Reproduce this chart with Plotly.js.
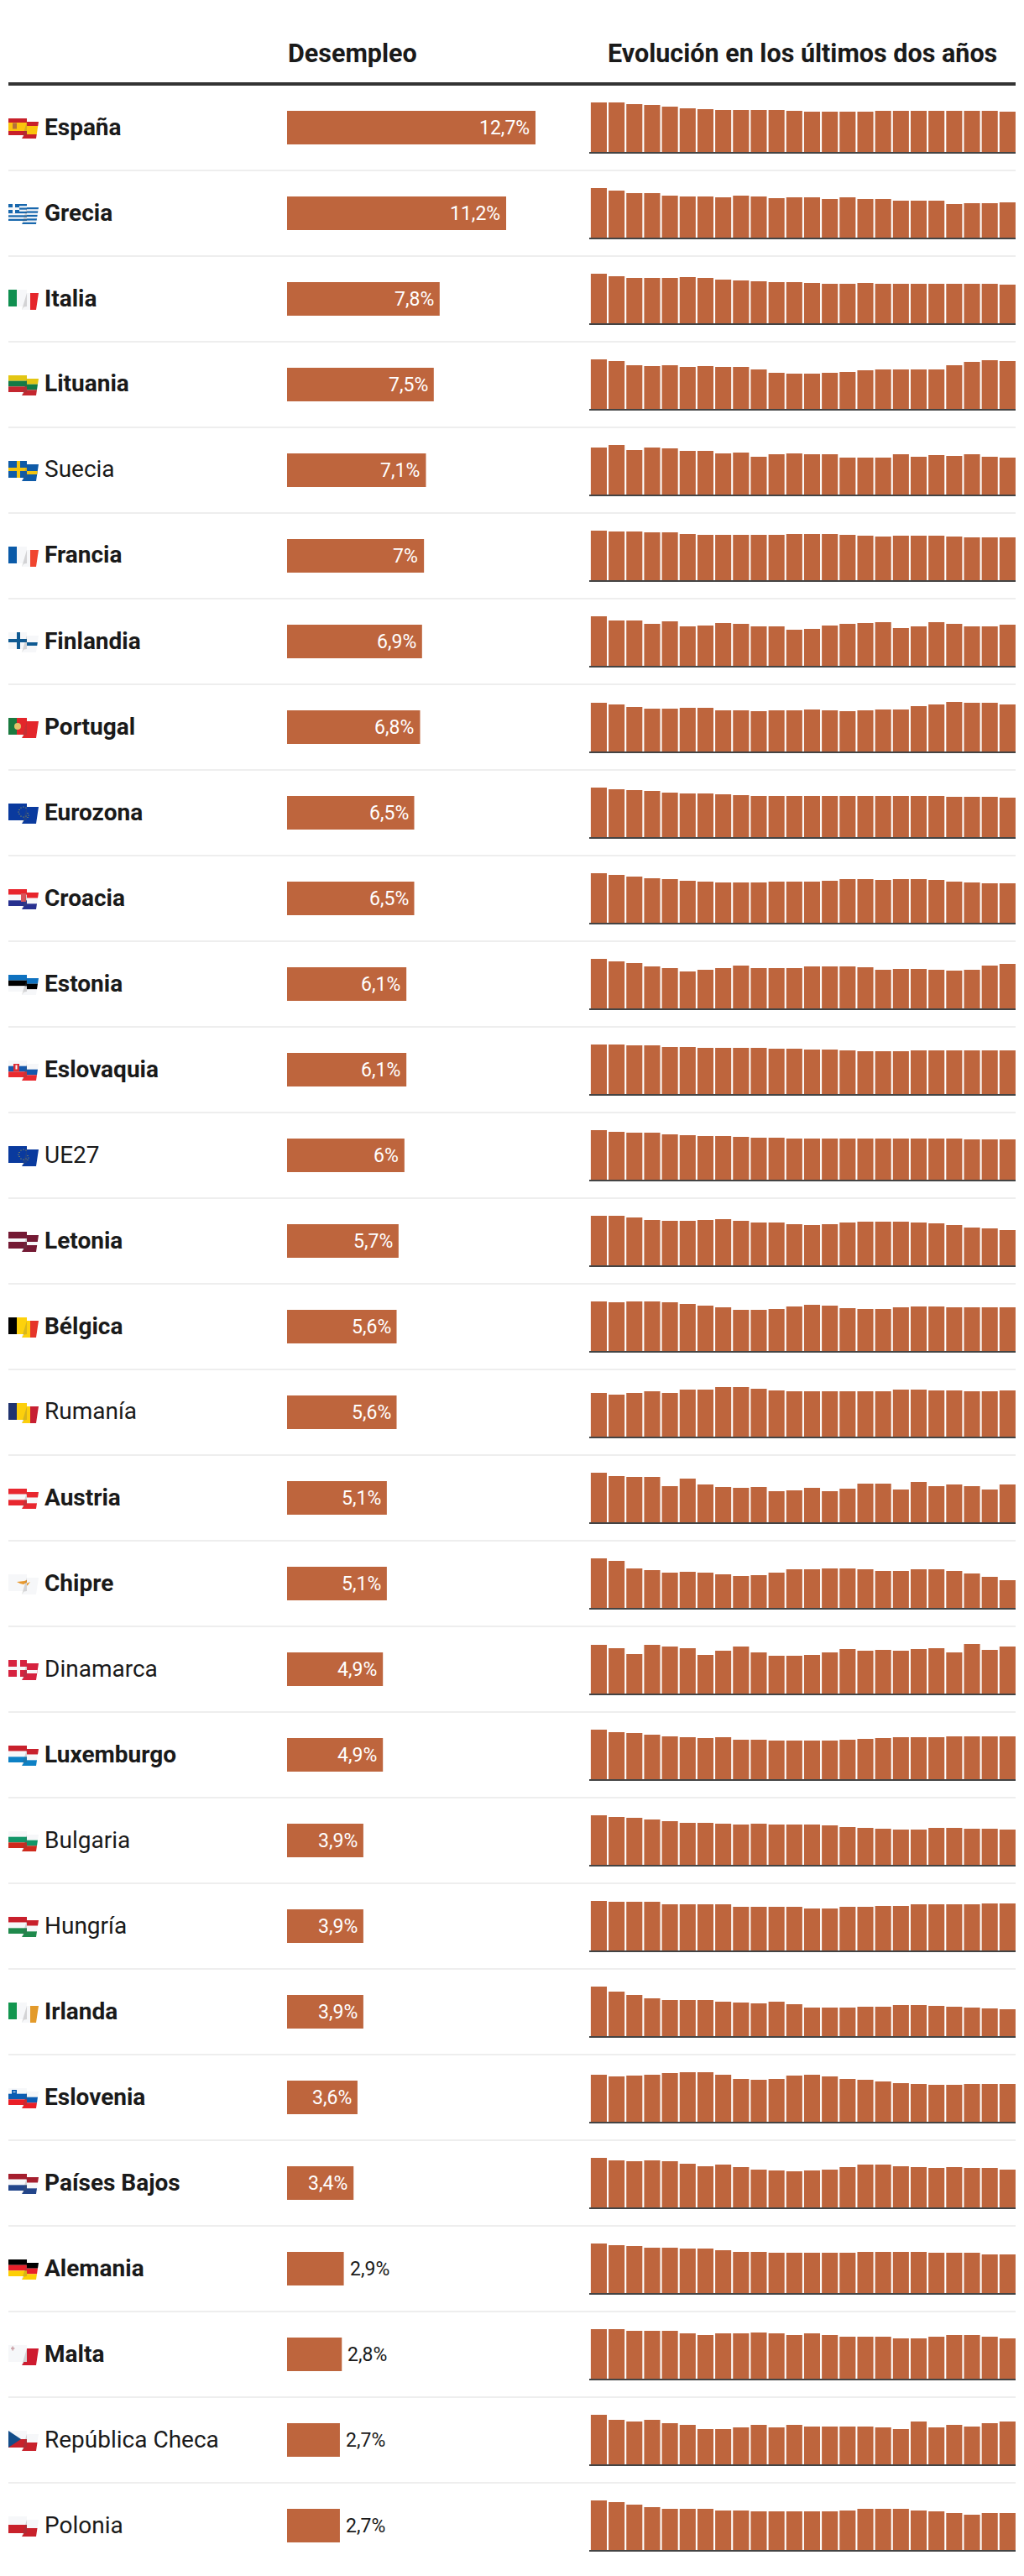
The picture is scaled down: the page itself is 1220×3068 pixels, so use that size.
<!DOCTYPE html>
<html lang="es">
<head>
<meta charset="utf-8">
<title>Desempleo en la UE</title>
<script src="https://cdn.plot.ly/plotly-3.0.1.min.js"></script>
<style>html,body{margin:0;padding:0;background:#fff;overflow:hidden}#chart{width:1220px;height:3068px}</style>
</head>
<body>
<div id="chart"></div>
<script>
// ---------- data ----------
const countries = ["España","Grecia","Italia","Lituania","Suecia","Francia","Finlandia","Portugal","Eurozona","Croacia","Estonia","Eslovaquia","UE27","Letonia","Bélgica","Rumanía","Austria","Chipre","Dinamarca","Luxemburgo","Bulgaria","Hungría","Irlanda","Eslovenia","Países Bajos","Alemania","Malta","República Checa","Polonia"];
const rates = [12.7,11.2,7.8,7.5,7.1,7,6.9,6.8,6.5,6.5,6.1,6.1,6,5.7,5.6,5.6,5.1,5.1,4.9,4.9,3.9,3.9,3.9,3.6,3.4,2.9,2.8,2.7,2.7];
const rateLabels = ["12,7%","11,2%","7,8%","7,5%","7,1%","7%","6,9%","6,8%","6,5%","6,5%","6,1%","6,1%","6%","5,7%","5,6%","5,6%","5,1%","5,1%","4,9%","4,9%","3,9%","3,9%","3,9%","3,6%","3,4%","2,9%","2,8%","2,7%","2,7%"];
const regularNames = ["Suecia","UE27","Rumanía","Dinamarca","Bulgaria","Hungría","República Checa","Polonia"];
const months = [0,1,2,3,4,5,6,7,8,9,10,11,12,13,14,15,16,17,18,19,20,21,22,23];

const evoEspana = [59,59,57,56,54,52,51,50,50,50,50,49,48,48,48,48,49,49,49,49,49,49,49,48];
const evoGrecia = [59,56,53,53,50,49,49,48,50,49,47,48,48,46,48,46,46,44,44,44,40,41,41,42];
const evoItalia = [59,56,54,54,54,55,54,52,51,50,49,49,48,47,47,48,47,47,47,47,47,47,47,46];
const evoLituania = [59,57,52,51,52,50,51,50,50,47,43,42,42,43,44,46,47,47,47,47,52,56,58,57];
const evoSuecia = [56,59,53,56,55,52,52,49,50,45,48,49,48,48,44,44,44,48,45,47,46,48,45,44];
const evoFrancia = [59,58,58,57,57,55,54,54,54,54,54,55,55,55,54,53,52,53,53,53,52,51,51,51];
const evoFinlandia = [59,54,54,50,53,47,48,51,50,47,47,43,44,48,50,51,52,45,47,52,50,47,47,49];
const evoPortugal = [58,56,53,51,51,52,52,49,49,48,49,49,50,49,48,49,50,50,54,56,59,58,58,56];
const evoEurozona = [59,57,56,55,53,52,52,51,50,49,49,49,49,49,49,49,49,49,49,49,48,48,48,47];
const evoCroacia = [59,57,55,53,52,50,49,48,48,48,49,49,49,50,52,52,51,52,52,51,49,48,47,47];
const evoEstonia = [59,56,54,50,48,44,46,48,51,48,48,48,50,50,50,49,46,47,47,46,45,46,51,53];
const evoEslovaquia = [59,59,58,58,56,56,55,55,55,55,54,54,53,53,52,51,51,51,52,52,52,52,52,52];
const evoUE27 = [59,57,56,56,54,53,52,52,51,50,50,49,49,49,49,49,49,49,49,49,49,48,48,48];
const evoLetonia = [59,59,57,54,53,53,54,55,53,51,51,49,48,49,51,52,52,52,51,50,48,45,44,42];
const evoBelgica = [59,58,59,59,58,56,54,52,49,49,50,53,55,54,51,50,50,52,53,53,52,52,52,52];
const evoRumania = [52,50,52,54,52,56,56,59,59,57,55,54,54,54,54,54,54,56,56,55,55,54,54,55];
const evoAustria = [59,55,54,54,43,52,45,42,41,42,37,38,41,37,40,46,46,39,48,43,45,43,39,45];
const evoChipre = [59,56,47,45,42,43,42,40,38,39,42,46,46,47,47,46,44,44,46,46,44,41,37,33];
const evoDinamarca = [58,54,47,58,56,54,46,51,56,49,45,45,46,49,53,51,52,51,53,54,49,59,52,56];
const evoLuxemburgo = [59,56,55,53,51,50,49,50,47,47,46,46,46,46,47,48,49,50,50,50,51,51,51,51];
const evoBulgaria = [59,57,56,54,52,50,50,49,48,49,48,48,48,47,45,44,43,42,42,44,44,43,43,42];
const evoHungria = [59,58,58,58,55,55,55,55,52,52,52,52,50,50,52,52,53,53,55,55,55,55,56,56];
const evoIrlanda = [59,53,49,45,43,43,43,41,40,39,41,38,34,34,34,35,35,37,37,36,35,34,33,32];
const evoEslovenia = [56,54,55,56,58,59,59,56,51,50,51,55,56,54,51,50,48,46,45,44,44,45,45,45];
const evoPaisesBajos = [59,56,55,56,55,52,49,51,48,45,44,43,44,45,48,51,51,49,48,47,48,47,47,45];
const evoAlemania = [59,57,56,54,54,53,53,51,49,49,48,48,48,48,48,49,49,49,49,48,48,48,46,46];
const evoMalta = [59,59,57,57,57,54,52,54,54,55,54,52,54,52,50,50,50,48,48,50,52,52,50,48];
const evoCheca = [59,53,51,53,49,47,42,42,44,47,44,47,45,45,45,45,44,42,51,44,47,45,49,51];
const evoPolonia = [59,57,54,51,49,49,49,47,47,46,46,46,46,46,47,49,49,49,47,46,44,42,44,44];
const evolution = [evoEspana,evoGrecia,evoItalia,evoLituania,evoSuecia,evoFrancia,evoFinlandia,evoPortugal,evoEurozona,evoCroacia,evoEstonia,evoEslovaquia,evoUE27,evoLetonia,evoBelgica,evoRumania,evoAustria,evoChipre,evoDinamarca,evoLuxemburgo,evoBulgaria,evoHungria,evoIrlanda,evoEslovenia,evoPaisesBajos,evoAlemania,evoMalta,evoCheca,evoPolonia];

// ---------- page geometry and styles ----------
const W = 1220, H = 3068, ROW = 102, FIRST_CENTER = 152;
const BAR = "#be653d", INK = "#1a1a1a", FONT = "Roboto, sans-serif";
const px = v => v / W, py = v => 1 - v / H;
const center = i => FIRST_CENTER + ROW * i;

// ---------- flags (small waving-flag pictograms) ----------
const WHITE = "#f6f7f9";
const hs = cs => cs.map((c, i) => `<rect x="0" y="${i * 20 / cs.length}" width="36" height="${20 / cs.length + .05}" fill="${c}"/>`).join("");
const vs = cs => {
  const edges = [0, 10, 26, 36];
  return cs.map((c, i) => `<rect x="${edges[i]}" y="0" width="${edges[i + 1] - edges[i]}" height="20" fill="${c}"/>`).join("");
};
const box = (x, y, w, h, c) => `<rect x="${x}" y="${y}" width="${w}" height="${h}" fill="${c}"/>`;
const nordic = (bg, c) => box(0, 0, 36, 20, bg) + box(10, 0, 4, 20, c) + box(0, 8, 36, 4, c);
const euro = (() => {
  let s = box(0, 0, 36, 20, "#0a3a9e");
  [[18,4],[21,5],[23,7.5],[24,10],[23,12.5],[21,15],[18,16],[15,15],[13,12.5],[12,10],[13,7.5],[15,5]]
    .forEach(p => s += `<circle cx="${p[0]}" cy="${p[1]}" r=".55" fill="#d9c22e"/>`);
  return s;
})();
const greek = () => {
  let s = box(0, 0, 36, 20, WHITE);
  for (let k = 0; k < 5; k++) s += box(0, k * 4.44, 36, 2.22, "#1767ad");
  return s + box(0, 0, 13, 11, "#1767ad") + box(5, 0, 3, 11, WHITE) + box(0, 4, 13, 3, WHITE);
};
const flagArt = {
  "España": hs(["#c8202a","#fbc40d","#fbc40d","#c8202a"]) + box(5, 5.5, 5, 7, "#b5703a"),
  "Grecia": greek(),
  "Italia": vs(["#0f8f50",WHITE,"#e5262b"]),
  "Lituania": hs(["#e3c613","#127a46","#c4272f"]),
  "Suecia": nordic("#0f5ba8","#f3c40f"),
  "Francia": vs(["#0a5aa8",WHITE,"#f0452f"]),
  "Finlandia": nordic(WHITE,"#0f5a92"),
  "Portugal": vs(["#1a7a40","#e3262b","#e3262b"]) + `<circle cx="11" cy="10" r="4" fill="#e3c36a"/>`,
  "Eurozona": euro,
  "Croacia": hs(["#e8242c",WHITE,"#27308f"]) + box(15, 5, 6, 10, "#d9535a"),
  "Estonia": hs(["#0f72c0","#000000",WHITE]),
  "Eslovaquia": hs([WHITE,"#1559ad","#ea2a2f"]) + box(6, 4, 7, 9, "#dc2c34") + box(8.5, 5.5, 2, 5, WHITE),
  "UE27": euro,
  "Letonia": hs(["#741a34","#741a34",WHITE,"#741a34","#741a34"]),
  "Bélgica": vs(["#000000","#fdd10c","#e5352a"]),
  "Rumanía": vs(["#20336f","#fccf0c","#c71f32"]),
  "Austria": hs(["#e8272f",WHITE,"#e8272f"]),
  "Chipre": box(0, 0, 36, 20, WHITE) + `<path d="M10 9l9-1 7-3-3 4-5 3-4-1z" fill="#e8992f"/>`,
  "Dinamarca": nordic("#d6223f","#f6f7f9"),
  "Luxemburgo": hs(["#c8202c",WHITE,"#0d81c5"]),
  "Bulgaria": hs([WHITE,"#129668","#cf2a1d"]),
  "Hungría": hs(["#c8202c",WHITE,"#1f8a4c"]),
  "Irlanda": vs(["#12964f",WHITE,"#e39a2a"]),
  "Eslovenia": hs([WHITE,"#0b5db3","#ea1f27"]) + box(4, 2, 6, 5, "#0b5db3") + box(5.5, 4, 3, 1, WHITE),
  "Países Bajos": hs(["#a51f2e",WHITE,"#22458a"]),
  "Alemania": hs(["#000000","#e8202a","#fdcf05"]),
  "Malta": box(0, 0, 36, 20, WHITE) + box(4.5, 1.5, 1.4, 5, "#c79aa0") + box(3, 3.2, 4.4, 1.4, "#c79aa0"),
  "República Checa": hs([WHITE,"#c8212b"]) + `<path d="M0 0L15 10L0 20z" fill="#134d89"/>`,
  "Polonia": hs([WHITE,"#c8212b"])
};
const flagArtRight = { "Malta": box(0, 0, 36, 20, "#ce1b2f") };

function flagUri(name) {
  const left = flagArt[name], right = flagArtRight[name] || left;
  const svg = `<svg xmlns="http://www.w3.org/2000/svg" width="144" height="96" viewBox="0 0 36 24">` +
    `<defs><clipPath id="l"><rect x="0" y="0" width="22" height="20"/></clipPath>` +
    `<clipPath id="r"><polygon points="22,4 36,4 33,24 16,24 18,21 "/></clipPath></defs>` +
    `<g clip-path="url(#r)"><g transform="translate(0,4)">${right}</g></g>` +
    `<g clip-path="url(#l)">${left}</g>` +
    `<path d="M22 4L16 24L18.5 20.5L22 20z" fill="#555" fill-opacity=".22"/></svg>`;
  return "data:image/svg+xml;charset=utf-8," + encodeURIComponent(svg);
}

// ---------- traces ----------
const traces = [{
  type: "bar", orientation: "h",
  x: rates, y: countries,
  width: 40 / ROW,
  marker: { color: BAR, line: { width: 0 } },
  xaxis: "x", yaxis: "y", hoverinfo: "skip"
}];

const layout = {
  width: W, height: H,
  margin: { l: 0, r: 0, t: 0, b: 0, pad: 0 },
  paper_bgcolor: "#fff", plot_bgcolor: "rgba(0,0,0,0)",
  showlegend: false,
  xaxis: { domain: [px(342), px(638)], range: [0, 12.7], visible: false, fixedrange: true, anchor: "y" },
  yaxis: {
    domain: [py(center(28) + ROW / 2), py(center(0) - ROW / 2)],
    type: "category", categoryorder: "array", categoryarray: countries,
    range: [28.5, -0.5], visible: false, fixedrange: true, anchor: "x"
  },
  shapes: [], annotations: [], images: []
};

// header rule and row separators
layout.shapes.push({ type: "line", xref: "paper", yref: "paper", x0: px(10), x1: px(1210), y0: py(100), y1: py(100), line: { color: "#333", width: 4 } });
for (let i = 0; i < countries.length - 1; i++) {
  const y = py(center(i) + ROW / 2);
  layout.shapes.push({ type: "line", xref: "paper", yref: "paper", x0: px(10), x1: px(1210), y0: y, y1: y, line: { color: "#eeeeee", width: 2 } });
}

// headers
const note = (text, x, yPx, xanchor, size, weight) => ({
  text, x: px(x), y: py(yPx), xref: "paper", yref: "paper", xanchor, yanchor: "middle",
  showarrow: false, borderpad: 0, font: { family: FONT, size, color: INK, weight }
});
layout.annotations.push(note("Desempleo", 342, 63, "left", 30.5, 700));
layout.annotations.push(note("Evolución en los últimos dos años", 956, 63, "center", 30.5, 700));

// rows
countries.forEach((name, i) => {
  const c = center(i);
  layout.annotations.push(note(name, 52, c - 1, "left", 28, regularNames.includes(name) ? 400 : 700));

  const inside = rates[i] >= 3;
  layout.annotations.push({
    text: rateLabels[i], x: rates[i], y: name, xref: "x", yref: "y",
    xanchor: inside ? "right" : "left", yanchor: "middle",
    xshift: inside ? -6 : 6, showarrow: false, borderpad: 0,
    font: { family: FONT, size: 23, color: inside ? "#ffffff" : INK, weight: 400 }
  });

  layout.images.push({
    source: flagUri(name), xref: "paper", yref: "paper",
    x: px(10), y: py(c - 11), sizex: 36 / W, sizey: 24 / H,
    sizing: "stretch", xanchor: "left", yanchor: "top", layer: "above"
  });

  const k = i + 2, base = 181 + ROW * i;
  traces.push({
    type: "bar", x: months, y: evolution[i], width: 0.902,
    marker: { color: BAR, line: { width: 0 } },
    xaxis: "x" + k, yaxis: "y" + k, hoverinfo: "skip"
  });
  layout["xaxis" + k] = {
    domain: [px(702.2), px(1210)], range: [-0.531, 23.455], anchor: "y" + k,
    showticklabels: false, ticks: "", showgrid: false, zeroline: false, fixedrange: true,
    showline: true, linecolor: "#444", linewidth: 2
  };
  layout["yaxis" + k] = {
    domain: [py(base), py(base - 59)], range: [0, 59], anchor: "x" + k,
    visible: false, fixedrange: true
  };
});

Plotly.newPlot("chart", traces, layout, { displayModeBar: false, responsive: false });
</script>
</body>
</html>
